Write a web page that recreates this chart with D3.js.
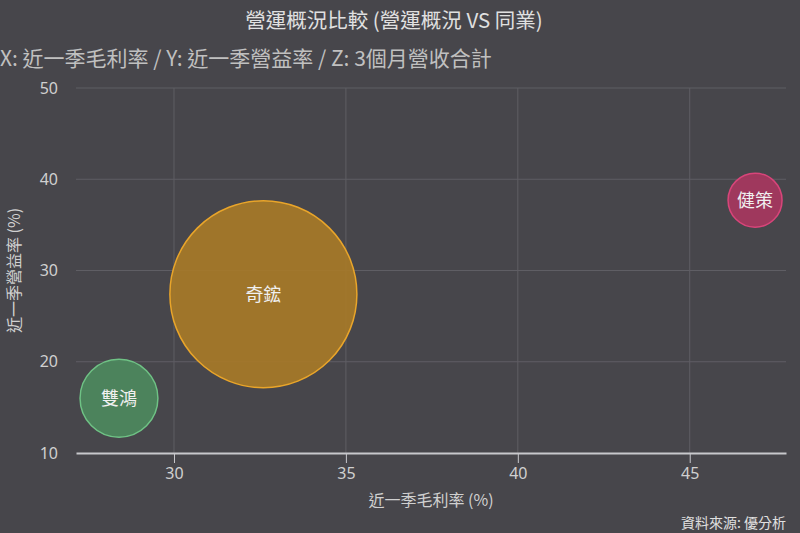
<!DOCTYPE html>
<html>
<head>
<meta charset="utf-8">
<script src="https://cdn.jsdelivr.net/npm/d3@7"></script>
<style>
  body { margin: 0; background: #47464b; }
  svg { display: block; font-family: "Noto Sans CJK TC", "Noto Sans", sans-serif; }
</style>
</head>
<body>
<div id="chart"></div>
<script>
// chart data
var names = ["雙鴻", "奇鋐", "健策"];
var grossMargin = [28.4, 32.6, 46.9];     // x: 近一季毛利率
var opMargin = [16.0, 27.4, 37.7];        // y: 近一季營益率
var revenue3m = [5200, 30000, 2500];      // z: 3個月營收合計
var fills = ["#4d8a5e", "#a97a27", "#a9365f"];
var strokes = ["#6fc285", "#e9a52a", "#d8457a"];
var xTicks = [30, 35, 40, 45];
var yTicks = [10, 20, 30, 40, 50];

var W = 800, H = 533;
var margin = {top: 88, right: 14, bottom: 80, left: 76};
var width = W - margin.left - margin.right;
var height = H - margin.top - margin.bottom;

var svg = d3.select('#chart')
    .append("svg")
    .attr("width", W)
    .attr("height", H);

svg.append("rect").attr("width", W).attr("height", H).attr("fill", "#47464b");

var g = svg.append("g")
    .attr("transform", "translate(" + margin.left + "," + margin.top + ")");

var x = d3.scaleLinear().domain([27.15, 47.8]).range([0, width]);
var y = d3.scaleLinear().domain([10, 50]).range([height, 0]);
var r = d3.scaleSqrt().domain([0, d3.max(revenue3m)]).range([0, 93.5]);

// grid lines
g.selectAll(".hgrid").data(yTicks.slice(1)).enter().append("line")
    .attr("x1", 0).attr("x2", width)
    .attr("y1", d => y(d)).attr("y2", d => y(d))
    .style("stroke", "#5f5e64").style("stroke-width", 1);
g.selectAll(".vgrid").data(xTicks).enter().append("line")
    .attr("x1", d => x(d)).attr("x2", d => x(d))
    .attr("y1", 0).attr("y2", height)
    .style("stroke", "#5f5e64").style("stroke-width", 1);

// x axis
var xAxis = g.append("g")
    .attr("transform", "translate(0," + height + ")")
    .call(d3.axisBottom(x).tickValues(xTicks).tickSize(10).tickSizeOuter(0).tickPadding(5));
xAxis.select(".domain").style("stroke", "#c8c8cc").style("stroke-width", 2);
xAxis.selectAll(".tick line").style("stroke", "#c8c8cc");
xAxis.selectAll("text").style("fill", "#d0d0d0").style("font-size", "16px")
    .style("font-family", "'Noto Sans', sans-serif");

// y axis labels
var yAxis = g.append("g")
    .call(d3.axisLeft(y).tickValues(yTicks).tickSize(0).tickPadding(18));
yAxis.select(".domain").remove();
yAxis.selectAll("text").style("fill", "#d0d0d0").style("font-size", "16px")
    .style("font-family", "'Noto Sans', sans-serif");

// bubbles
var idx = d3.range(names.length).sort((a, b) => revenue3m[b] - revenue3m[a]);
var bubbles = g.selectAll(".bubble").data(idx).enter().append("g");
bubbles.append("circle")
    .attr("cx", i => x(grossMargin[i]))
    .attr("cy", i => y(opMargin[i]))
    .attr("r", i => r(revenue3m[i]))
    .style("fill", i => fills[i])
    .style("fill-opacity", 0.9)
    .style("stroke", i => strokes[i])
    .style("stroke-width", 1.5);
bubbles.append("text")
    .attr("x", i => x(grossMargin[i]))
    .attr("y", i => y(opMargin[i]))
    .attr("dy", "0.35em")
    .attr("text-anchor", "middle")
    .style("fill", "#f0f0f0")
    .style("font-size", "18px")
    .text(i => names[i]);

// titles
svg.append("text").attr("x", W / 2 - 6).attr("y", 28).attr("text-anchor", "middle")
    .style("fill", "#e0e0e0").style("font-size", "20.5px")
    .text("營運概況比較 (營運概況 VS 同業)");
svg.append("text").attr("x", 0).attr("y", 66)
    .style("fill", "#c0c0c0").style("font-size", "21px")
    .text("X: 近一季毛利率 / Y: 近一季營益率 / Z: 3個月營收合計");

svg.append("text").attr("x", margin.left + width / 2).attr("y", 506).attr("text-anchor", "middle")
    .style("fill", "#d0d0d0").style("font-size", "16px")
    .text("近一季毛利率 (%)");
svg.append("text")
    .attr("transform", "translate(20," + (margin.top + height / 2) + ") rotate(-90)")
    .attr("text-anchor", "middle")
    .style("fill", "#d0d0d0").style("font-size", "16px")
    .text("近一季營益率 (%)");

svg.append("text").attr("x", 786).attr("y", 528).attr("text-anchor", "end")
    .style("fill", "#e0e0e0").style("font-size", "14px")
    .text("資料來源: 優分析");
</script>
</body>
</html>
